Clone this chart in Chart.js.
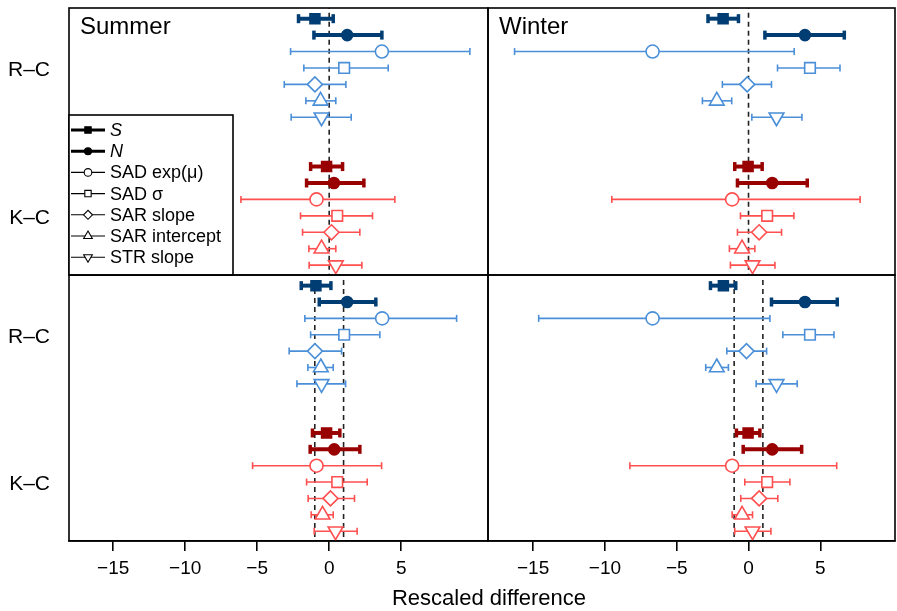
<!DOCTYPE html>
<html><head><meta charset="utf-8">
<script src="https://cdn.jsdelivr.net/npm/chart.js@4.4.0/dist/chart.umd.min.js"></script>
<style>
html,body{margin:0;padding:0;background:#fff;}
#wrap{position:relative;width:897px;height:611px;overflow:hidden;background:#fff;}
canvas{position:absolute;}
.lbl{position:absolute;font-family:'Liberation Sans',Arial,Helvetica,sans-serif;color:#000;white-space:nowrap;}
#xtitle{left:289px;width:400px;top:587px;text-align:center;font-size:22px;line-height:22px;}
.row{font-size:21px;line-height:22px;width:60px;left:-10px;text-align:right;}
</style></head>
<body>
<div id="wrap">
<canvas id="tl" width="490" height="277" style="left:0px;top:0px;width:490px;height:277px"></canvas>
<canvas id="tr" width="411" height="277" style="left:486px;top:0px;width:411px;height:277px"></canvas>
<canvas id="bl" width="490" height="338" style="left:0px;top:273px;width:490px;height:338px"></canvas>
<canvas id="br" width="411" height="338" style="left:486px;top:273px;width:411px;height:338px"></canvas>
<div id="xtitle" class="lbl">Rescaled difference</div>
</div>
<script>
// ---- categories / labels ----
const measures = ['S', 'N', 'SAD exp(\u03bc)', 'SAD \u03c3', 'SAR slope', 'SAR intercept', 'STR slope'];
const groups = ['R\u2013C', 'K\u2013C'];
const groupRows = [3, 12];
const seasons = ['Summer', 'Winter'];
const xTicks = [-15, -10, -5, 0, 5];

// ---- Summer, upper panel ----
const summerTopRC_mid = [-0.99, 1.25, 3.66, 1.04, -0.99, -0.60, -0.53];
const summerTopRC_lo  = [-2.13, -1.06, -2.68, -1.76, -3.12, -1.62, -2.64];
const summerTopRC_hi  = [0.28, 3.66, 9.77, 4.10, 1.16, 0.46, 1.53];
const summerTopKC_mid = [-0.18, 0.33, -0.88, 0.56, 0.16, -0.53, 0.46];
const summerTopKC_lo  = [-1.29, -1.57, -6.13, -1.99, -1.85, -1.41, -1.39];
const summerTopKC_hi  = [0.93, 2.41, 4.56, 3.01, 2.13, 0.46, 2.27];
// ---- Winter, upper panel ----
const winterTopRC_mid = [-1.77, 3.93, -6.68, 4.28, -0.09, -2.21, 1.95];
const winterTopRC_lo  = [-2.82, 1.14, -16.29, 2.02, -1.82, -3.21, 0.23];
const winterTopRC_hi  = [-0.70, 6.67, 3.18, 6.37, 1.60, -1.17, 3.72];
const winterTopKC_mid = [-0.03, 1.65, -1.14, 1.30, 0.74, -0.45, 0.28];
const winterTopKC_lo  = [-0.96, -0.77, -9.52, -0.56, -0.77, -1.33, -1.26];
const winterTopKC_hi  = [0.95, 4.09, 7.77, 3.16, 2.30, 0.44, 1.84];
// ---- Summer, lower panel ----
const summerBotRC_mid = [-0.92, 1.25, 3.68, 1.04, -0.99, -0.58, -0.53];
const summerBotRC_lo  = [-1.94, -0.69, -1.69, -1.29, -2.78, -1.48, -2.24];
const summerBotRC_hi  = [0.12, 3.24, 8.85, 3.52, 0.86, 0.28, 1.14];
const summerBotKC_mid = [-0.18, 0.35, -0.88, 0.56, 0.09, -0.46, 0.44];
const summerBotKC_lo  = [-1.16, -1.32, -5.32, -1.57, -1.46, -1.25, -1.04];
const summerBotKC_hi  = [0.74, 2.13, 3.64, 2.64, 1.76, 0.28, 1.94];
// ---- Winter, lower panel ----
const winterBotRC_mid = [-1.75, 3.93, -6.68, 4.28, -0.14, -2.21, 1.95];
const winterBotRC_lo  = [-2.65, 1.60, -14.61, 2.39, -1.51, -2.98, 0.53];
const winterBotRC_hi  = [-0.89, 6.18, 1.49, 5.95, 1.26, -1.40, 3.39];
const winterBotKC_mid = [-0.03, 1.65, -1.14, 1.30, 0.74, -0.45, 0.28];
const winterBotKC_lo  = [-0.84, -0.37, -8.26, -0.26, -0.54, -1.14, -0.96];
const winterBotKC_hi  = [0.79, 3.70, 6.14, 2.88, 2.04, 0.28, 1.56];
// reference lines
const topRefLines = [0];
const botRefLines = [-1, 1];

// ---- styling ----
const FONT = "'Liberation Sans', Arial, Helvetica, sans-serif";
const C_RC_DARK = '#003d73', C_RC_LIGHT = '#4a8fd8';
const C_KC_DARK = '#990000', C_KC_LIGHT = '#ff4f4f';
const mStyle = ['rect', 'circle', 'circle', 'rect', 'rectRot', 'triangle', 'triangle'];
const mRot = [0, 0, 0, 0, 0, 0, 180];
const mFill = [true, true, false, false, false, false, false];
const mRad = [7, 5.5, 6.5, 7.5, 7.5, 8.5, 8.5];

function buildDatasets(rc, kc, refs) {
  const ds = [];
  [[rc, 0, C_RC_DARK, C_RC_LIGHT], [kc, 9, C_KC_DARK, C_KC_LIGHT]].forEach(([g, off, dark, light]) => {
    for (let i = 0; i < 7; i++) {
      const y = off + i;
      const col = i < 2 ? dark : light;
      const thick = i < 2;
      ds.push({
        data: [{x: g.lo[i], y: y}, {x: g.hi[i], y: y}],
        showLine: true, borderColor: col, borderWidth: thick ? 4 : 1.6,
        pointStyle: 'line', pointRotation: 90, pointRadius: thick ? 4.5 : 3.5,
        pointHoverRadius: thick ? 4.5 : 3.5,
        pointBorderColor: col, pointBorderWidth: thick ? 3.5 : 1.6,
        clip: false, order: 1
      });
      ds.push({
        data: [{x: g.mid[i], y: y}],
        pointStyle: mStyle[i], pointRotation: mRot[i], pointRadius: mRad[i], pointHoverRadius: mRad[i],
        pointBackgroundColor: mFill[i] ? col : '#ffffff', pointBorderColor: col, pointBorderWidth: 1.6,
        clip: false, order: 0
      });
    }
  });
  refs.forEach(v => {
    ds.push({
      data: [{x: v, y: -2}, {x: v, y: 18}],
      showLine: true, borderColor: '#222', borderWidth: 1.6, borderDash: [5, 4],
      pointRadius: 0, pointHoverRadius: 0, order: 2
    });
  });
  return ds;
}

const framePlugin = {
  id: 'frame',
  afterDatasetsDraw(chart) {
    const a = chart.chartArea, ctx = chart.ctx;
    ctx.save();
    ctx.strokeStyle = '#000'; ctx.lineWidth = 1.6;
    ctx.strokeRect(a.left, a.top, a.right - a.left, a.bottom - a.top);
    const t = chart.options.plugins.panelTitle;
    if (t && t.text) {
      ctx.fillStyle = '#000';
      ctx.font = '24px ' + FONT;
      ctx.textBaseline = 'alphabetic';
      ctx.textAlign = 'left';
      ctx.fillText(t.text, a.left + 11, a.top + 26);
    }
    ctx.restore();
  }
};

const legendPlugin = {
  id: 'boxLegend',
  afterDatasetsDraw(chart) {
    const o = chart.options.plugins.boxLegend;
    if (!o || !o.show) return;
    const a = chart.chartArea, ctx = chart.ctx;
    const x0 = a.left, y0 = 115, x1 = 233, y1 = a.bottom;
    ctx.save();
    ctx.fillStyle = '#fff';
    ctx.fillRect(x0, y0, x1 - x0, y1 - y0);
    ctx.strokeStyle = '#000'; ctx.lineWidth = 1.6;
    ctx.strokeRect(x0, y0, x1 - x0, y1 - y0);
    const lRad = [4.5, 3.5, 3.8, 4.5, 4.5, 5, 5];
    measures.forEach((m, i) => {
      const y = 130 + i * 21.2;
      const thick = i < 2;
      ctx.strokeStyle = '#000';
      ctx.lineWidth = thick ? 3 : 1.1;
      ctx.beginPath(); ctx.moveTo(x0 + 2, y); ctx.lineTo(x0 + 36, y); ctx.stroke();
      ctx.fillStyle = mFill[i] ? '#000' : '#fff';
      ctx.lineWidth = 1.1;
      Chart.helpers.drawPoint(ctx, {pointStyle: mStyle[i], rotation: mRot[i], radius: lRad[i], borderWidth: 1.1}, x0 + 19, y);
      ctx.fillStyle = '#000';
      ctx.font = (thick ? 'italic ' : '') + '18px ' + FONT;
      ctx.textBaseline = 'middle';
      ctx.textAlign = 'left';
      ctx.fillText(m, x0 + 41, y + 1);
    });
    ctx.restore();
  }
};

function makeChart(id, opt) {
  const ds = buildDatasets(opt.rc, opt.kc, opt.refs);
  return new Chart(document.getElementById(id), {
    type: 'scatter',
    data: {datasets: ds},
    plugins: [framePlugin, legendPlugin],
    options: {
      responsive: false, maintainAspectRatio: false, animation: false, events: [],
      layout: {padding: opt.padding, autoPadding: false},
      plugins: {legend: {display: false}, tooltip: {enabled: false},
        panelTitle: {text: opt.title}, boxLegend: {show: !!opt.legend}},
      scales: {
        x: {
          type: 'linear', min: opt.xmin, max: opt.xmax, display: opt.showX,
          afterBuildTicks: s => { s.ticks = xTicks.map(v => ({value: v})); },
          afterFit: s => { if (s.options.display) s.height = 70; },
          ticks: {callback: v => v < 0 ? '\u2212' + Math.abs(v) : String(v),
            font: {size: 19, family: FONT}, color: '#000', padding: 6, maxRotation: 0, autoSkip: false},
          grid: {drawOnChartArea: false, drawTicks: true, tickLength: 10, color: '#000', lineWidth: 1.6},
          border: {display: true, color: '#000', width: 1.6}
        },
        y: {
          type: 'linear', reverse: true, min: -0.65, max: 15.6, display: false
        }
      }
    }
  });
}

function addRowLabels(chart, canvasTop) {
  const wrap = document.getElementById('wrap');
  groups.forEach((g, k) => {
    const py = chart.scales.y.getPixelForValue(groupRows[k]) + canvasTop;
    const d = document.createElement('div');
    d.className = 'lbl row';
    d.textContent = g;
    d.style.top = (py - 10) + 'px';
    wrap.appendChild(d);
  });
}

const cTL = makeChart('tl', {rc: {mid: summerTopRC_mid, lo: summerTopRC_lo, hi: summerTopRC_hi},
  kc: {mid: summerTopKC_mid, lo: summerTopKC_lo, hi: summerTopKC_hi}, refs: topRefLines,
  showX: false, xmin: -18.07, xmax: 11.03, title: seasons[0], legend: true,
  padding: {left: 69, top: 8, right: 2, bottom: 2}});
makeChart('tr', {rc: {mid: winterTopRC_mid, lo: winterTopRC_lo, hi: winterTopRC_hi},
  kc: {mid: winterTopKC_mid, lo: winterTopKC_lo, hi: winterTopKC_hi}, refs: topRefLines,
  showX: false, xmin: -18.14, xmax: 10.2, title: seasons[1], legend: false,
  padding: {left: 2, top: 8, right: 2, bottom: 2}});
const cBL = makeChart('bl', {rc: {mid: summerBotRC_mid, lo: summerBotRC_lo, hi: summerBotRC_hi},
  kc: {mid: summerBotKC_mid, lo: summerBotKC_lo, hi: summerBotKC_hi}, refs: botRefLines,
  showX: true, xmin: -18.07, xmax: 11.03, title: '', legend: false,
  padding: {left: 69, top: 2, right: 2, bottom: 0}});
makeChart('br', {rc: {mid: winterBotRC_mid, lo: winterBotRC_lo, hi: winterBotRC_hi},
  kc: {mid: winterBotKC_mid, lo: winterBotKC_lo, hi: winterBotKC_hi}, refs: botRefLines,
  showX: true, xmin: -18.14, xmax: 10.2, title: '', legend: false,
  padding: {left: 2, top: 2, right: 2, bottom: 0}});
addRowLabels(cTL, 0);
addRowLabels(cBL, 273);
</script>
</body></html>
